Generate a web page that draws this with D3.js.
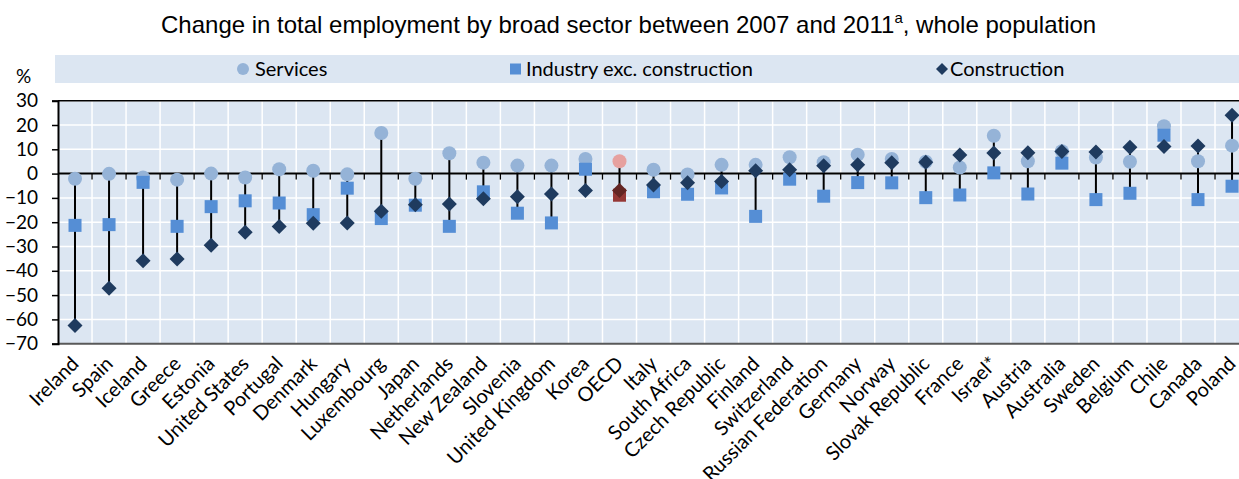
<!DOCTYPE html>
<html>
<head>
<meta charset="utf-8">
<script src="https://cdn.jsdelivr.net/npm/d3@7"></script>
<style>
  html, body { margin: 0; padding: 0; background: #fff; }
  svg { display: block; }
</style>
</head>
<body>
<svg id="chart" width="1239" height="479"></svg>
<script>
const categories = ["Ireland","Spain","Iceland","Greece","Estonia","United States","Portugal","Denmark","Hungary","Luxembourg","Japan","Netherlands","New Zealand","Slovenia","United Kingdom","Korea","OECD","Italy","South Africa","Czech Republic","Finland","Switzerland","Russian Federation","Germany","Norway","Slovak Republic","France","Israel*","Austria","Australia","Sweden","Belgium","Chile","Canada","Poland"];
const services =     [-2.1, -0.1, -1.6, -2.5, 0.0, -1.6, 1.8, 1.2, -0.3, 16.7, -2.1, 8.4, 4.5, 3.3, 3.3, 6.0, 5.1, 1.6, -0.4, 3.6, 3.6, 6.7, 4.7, 7.8, 6.0, 4.9, 2.5, 15.6, 5.1, 9.2, 6.6, 4.9, 19.5, 5.1, 11.5];
const industry =     [-21.3, -21.0, -3.6, -21.7, -13.6, -11.2, -12.1, -16.9, -6.0, -18.5, -13.0, -21.7, -7.5, -16.3, -20.3, 1.8, -8.9, -7.5, -8.5, -5.9, -17.6, -2.3, -9.3, -3.7, -3.8, -9.9, -8.8, 0.3, -8.4, 4.3, -10.7, -8.1, 15.8, -10.7, -5.2];
const construction = [-62.5, -47.2, -35.9, -35.1, -29.5, -24.1, -21.8, -20.4, -20.3, -15.5, -12.8, -12.5, -10.4, -9.5, -8.4, -7.0, -7.0, -4.7, -3.8, -3.2, 1.2, 1.6, 3.2, 3.6, 4.5, 4.7, 7.7, 8.5, 8.6, 9.1, 8.9, 10.8, 11.2, 11.4, 24.0];
const yTicks = [30, 20, 10, 0, -10, -20, -30, -40, -50, -60, -70];
const seriesNames = ["Services", "Industry exc. construction", "Construction"];
const highlight = "OECD";

const svg = d3.select("#chart");
const font = "Lato, 'Open Sans', sans-serif";
const bg = "#dce6f2";

const pLeft = 58, pTop = 100.7, pBottom = 343.7, band = 34.03;
const x = d3.scaleBand().domain(categories).range([pLeft, pLeft + band * categories.length]).padding(0);
const y = d3.scaleLinear().domain([-70, 30]).range([pBottom, pTop]);
const pRight = pLeft + band * categories.length;

const diamond = h => `M0,${-h}L${h},0L0,${h}L${-h},0Z`;

// Title
const title = svg.append("text")
  .attr("x", 161).attr("y", 33)
  .attr("text-anchor", "start")
  .attr("font-family", "'Liberation Sans', Arial, sans-serif")
  .attr("font-size", 24).attr("fill", "#000");
title.append("tspan").text("Change in total employment by broad sector between 2007 and 2011");
title.append("tspan").attr("dy", -10).attr("font-size", 15).text("a");
title.append("tspan").attr("dy", 10).text(", whole population");

// Legend band
svg.append("rect").attr("x", 55).attr("y", 55).attr("width", 1239 - 55).attr("height", 28).attr("fill", bg);
const lg = svg.append("g").attr("font-family", font).attr("font-size", 20).attr("fill", "#000");
lg.append("circle").attr("cx", 243).attr("cy", 69).attr("r", 6).attr("fill", "#95b3d7");
lg.append("text").attr("x", 255).attr("y", 76).text(seriesNames[0]);
lg.append("rect").attr("x", 510).attr("y", 63.5).attr("width", 11).attr("height", 11).attr("fill", "#558ed5");
lg.append("text").attr("x", 526).attr("y", 76).text(seriesNames[1]);
lg.append("path").attr("d", diamond(6)).attr("transform", "translate(942,69)").attr("fill", "#1f3b5f");
lg.append("text").attr("x", 950).attr("y", 76).text(seriesNames[2]);

// % label
svg.append("text").attr("x", 16).attr("y", 83).attr("font-family", font).attr("font-size", 19).text("%");

// Plot background
svg.append("rect").attr("x", pLeft).attr("y", pTop).attr("width", pRight - pLeft).attr("height", pBottom - pTop).attr("fill", bg);

// Gridlines
const grid = svg.append("g").attr("stroke", "#fff").attr("stroke-width", 1.5);
yTicks.forEach(t => {
  grid.append("line").attr("x1", pLeft).attr("x2", pRight).attr("y1", y(t)).attr("y2", y(t));
});
categories.forEach((c, i) => {
  if (i === 0) return;
  grid.append("line").attr("x1", x(c)).attr("x2", x(c)).attr("y1", pTop).attr("y2", pBottom);
});

// Top and bottom borders
svg.append("line").attr("x1", pLeft).attr("x2", pRight).attr("y1", pTop).attr("y2", pTop).attr("stroke", "#000").attr("stroke-width", 1.5);
svg.append("line").attr("x1", pLeft).attr("x2", pRight).attr("y1", pBottom).attr("y2", pBottom).attr("stroke", "#595959").attr("stroke-width", 2);

// Y axis
const yAxis = d3.axisLeft(y).tickValues(yTicks).tickSize(6).tickPadding(14).tickFormat(d3.format("d"));
const yg = svg.append("g").attr("transform", `translate(${pLeft},0)`).call(yAxis);
yg.select(".domain").attr("stroke", "#000").attr("stroke-width", 2);
yg.selectAll(".tick line").attr("stroke", "#000").attr("stroke-width", 1.5);
yg.selectAll(".tick text").attr("font-family", font).attr("font-size", 19).attr("fill", "#000");

// Zero axis with category ticks
const xAxis = d3.axisBottom(x).tickSize(0).tickFormat("");
const xg = svg.append("g").attr("transform", `translate(0,${y(0)})`).call(xAxis);
xg.select(".domain").attr("stroke", "#000").attr("stroke-width", 2).attr("d", `M${pLeft},0H${pRight}`);
categories.forEach((c, i) => {
  if (i === 0) return;
  xg.append("line").attr("x1", x(c)).attr("x2", x(c)).attr("y1", 0).attr("y2", 6).attr("stroke", "#000").attr("stroke-width", 1.3);
});

// Category labels
svg.append("g").selectAll("text").data(categories).join("text")
  .attr("transform", d => `translate(${x(d) + band / 2 + 5},365) rotate(-45)`)
  .attr("text-anchor", "end")
  .attr("font-family", font).attr("font-size", 20).attr("fill", "#000")
  .text(d => d);

// Data rows
const rows = categories.map((c, i) => ({ c, s: services[i], ind: industry[i], con: construction[i] }));
const cx = d => x(d.c) + band / 2;

svg.append("g").selectAll("line").data(rows).join("line")
  .attr("x1", cx).attr("x2", cx)
  .attr("y1", d => y(Math.max(d.s, d.ind, d.con)))
  .attr("y2", d => y(Math.min(d.s, d.ind, d.con)))
  .attr("stroke", "#000").attr("stroke-width", 2);

svg.append("g").selectAll("circle").data(rows).join("circle")
  .attr("cx", cx).attr("cy", d => y(d.s)).attr("r", 7)
  .attr("fill", d => d.c === highlight ? "#e6a19f" : "#95b3d7");

svg.append("g").selectAll("rect").data(rows).join("rect")
  .attr("x", d => cx(d) - 6.5).attr("y", d => y(d.ind) - 6.5)
  .attr("width", 13).attr("height", 13)
  .attr("fill", d => d.c === highlight ? "#953735" : "#558ed5");

svg.append("g").selectAll("path").data(rows).join("path")
  .attr("d", diamond(7.5))
  .attr("transform", d => `translate(${cx(d)},${y(d.con)})`)
  .attr("fill", d => d.c === highlight ? "#632523" : "#1f3b5f");
</script>
</body>
</html>
